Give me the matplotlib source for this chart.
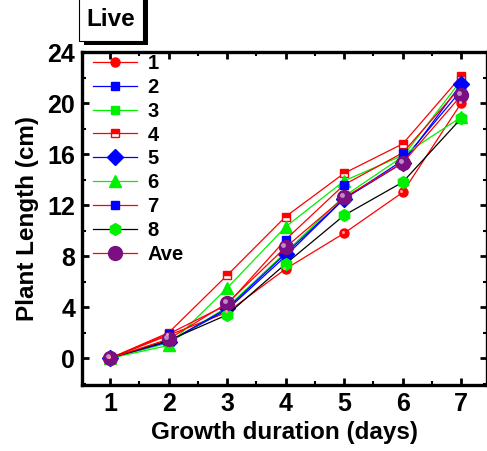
import matplotlib
matplotlib.use("Agg")
import matplotlib.pyplot as plt
from matplotlib.patches import Rectangle
from matplotlib.ticker import MultipleLocator
from matplotlib.transforms import ScaledTranslation

plt.rcParams['font.family'] = ['Liberation Sans', 'DejaVu Sans']
plt.rcParams['font.weight'] = 'bold'

days = [1, 2, 3, 4, 5, 6, 7]
s1 = [0, 1.8, 3.6, 7.0, 9.8, 13.0, 20.0]
s2 = [0, 1.3, 3.8, 8.0, 12.5, 15.5, 21.0]
s3 = [0, 1.2, 4.0, 8.3, 12.7, 15.8, 21.8]
s4 = [0, 2.0, 6.5, 11.1, 14.5, 16.8, 22.1]
s5 = [0, 1.3, 3.9, 8.2, 12.5, 15.3, 21.5]
s6 = [0, 1.0, 5.5, 10.3, 13.9, 15.9, 18.9]
s7 = [0, 1.9, 4.2, 9.3, 13.6, 16.1, 21.3]
s8 = [0, 1.4, 3.4, 7.4, 11.2, 13.8, 18.8]
ave = [0, 1.5, 4.3, 8.7, 12.6, 15.3, 20.6]
labels = ['1', '2', '3', '4', '5', '6', '7', '8', 'Ave']
xticks = [1, 2, 3, 4, 5, 6, 7]
yticks = [0, 4, 8, 12, 16, 20, 24]

W, H = 487, 451
fig = plt.figure(figsize=(W / 100, H / 100), dpi=100)
ax = fig.add_axes([82 / W, 1 - 385 / H, (487 - 82) / W, (385 - 52) / H])

G = '#00f000'
styles = [
    dict(color='red', marker='o', mfc='red', mec='red', ms=6.5),
    dict(color='blue', marker='s', mfc='blue', mec='blue', ms=6),
    dict(color=G, marker='s', mfc=G, mec=G, ms=6),
    dict(color='red', marker='s', mfc='red', mec='red', ms=6, fillstyle='top', markerfacecoloralt='white'),
    dict(color='blue', marker='D', mfc='blue', mec='blue', ms=8),
    dict(color=G, marker='^', mfc=G, mec=G, ms=9),
    dict(color='red', marker='s', mfc='blue', mec='blue', ms=6),
    dict(color='black', marker='h', mfc=G, mec=G, ms=8.5),
    dict(color='red', marker='o', mfc='#7a0f82', mec='#7a0f82', ms=10),
]
series = [s1, s2, s3, s4, s5, s6, s7, s8, ave]
for s, lab, st in zip(series, labels, styles):
    ax.plot(days, s, lw=0.9, label=lab, **st)

# specular highlights on spherical markers
hl = ax.transData + ScaledTranslation(-1.6 / 72, 1.6 / 72, fig.dpi_scale_trans)
ax.plot(days, ave, ls='none', marker='o', ms=3.5, mfc='#c08cc6', mec='none', transform=hl)
hl2 = ax.transData + ScaledTranslation(-1.0 / 72, 1.0 / 72, fig.dpi_scale_trans)
ax.plot(days, s1, ls='none', marker='o', ms=2.2, mfc='#ff9a9a', mec='none', transform=hl2)

ax.set_xlim(0.52, 7.44)
ax.set_ylim(-2.1, 24)
ax.set_xticks(xticks)
ax.set_yticks(yticks)
ax.xaxis.set_minor_locator(MultipleLocator(0.5))
ax.yaxis.set_minor_locator(MultipleLocator(2))
ax.tick_params(which='both', direction='in', top=True, right=True, width=2, labelsize=18, pad=5)
ax.tick_params(which='major', length=5)
ax.tick_params(which='minor', length=3, width=1.5)
for lbl in ax.get_xticklabels() + ax.get_yticklabels():
    lbl.set_fontweight('bold')
for sp in ax.spines.values():
    sp.set_linewidth(2.4)

ax.set_xlabel('Growth duration (days)', fontsize=17.5, fontweight='bold', labelpad=4)
ax.set_ylabel('Plant Length (cm)', fontsize=17.5, fontweight='bold', labelpad=6)

leg = ax.legend(loc='upper left', bbox_to_anchor=(0.022, 1.0), frameon=False,
                prop=dict(size=14.5, weight='bold'), handlelength=2.2,
                labelspacing=0.24, borderaxespad=0.0, handletextpad=0.5,
                borderpad=0.1)

# "Live" title box with shadow
fig.patches.append(Rectangle((84 / W, 1 - 45 / H), 64 / W, 45 / H, transform=fig.transFigure,
                             facecolor='black', edgecolor='none', zorder=1))
fig.patches.append(Rectangle((79 / W, 1 - 41 / H), 64 / W, 43 / H, transform=fig.transFigure,
                             facecolor='white', edgecolor='black', lw=0.8, zorder=2))
fig.text(111 / W, 1 - 20 / H, 'Live', ha='center', va='center', fontsize=17.5,
         fontweight='bold', zorder=3)

fig.savefig('out.png', dpi=100)
